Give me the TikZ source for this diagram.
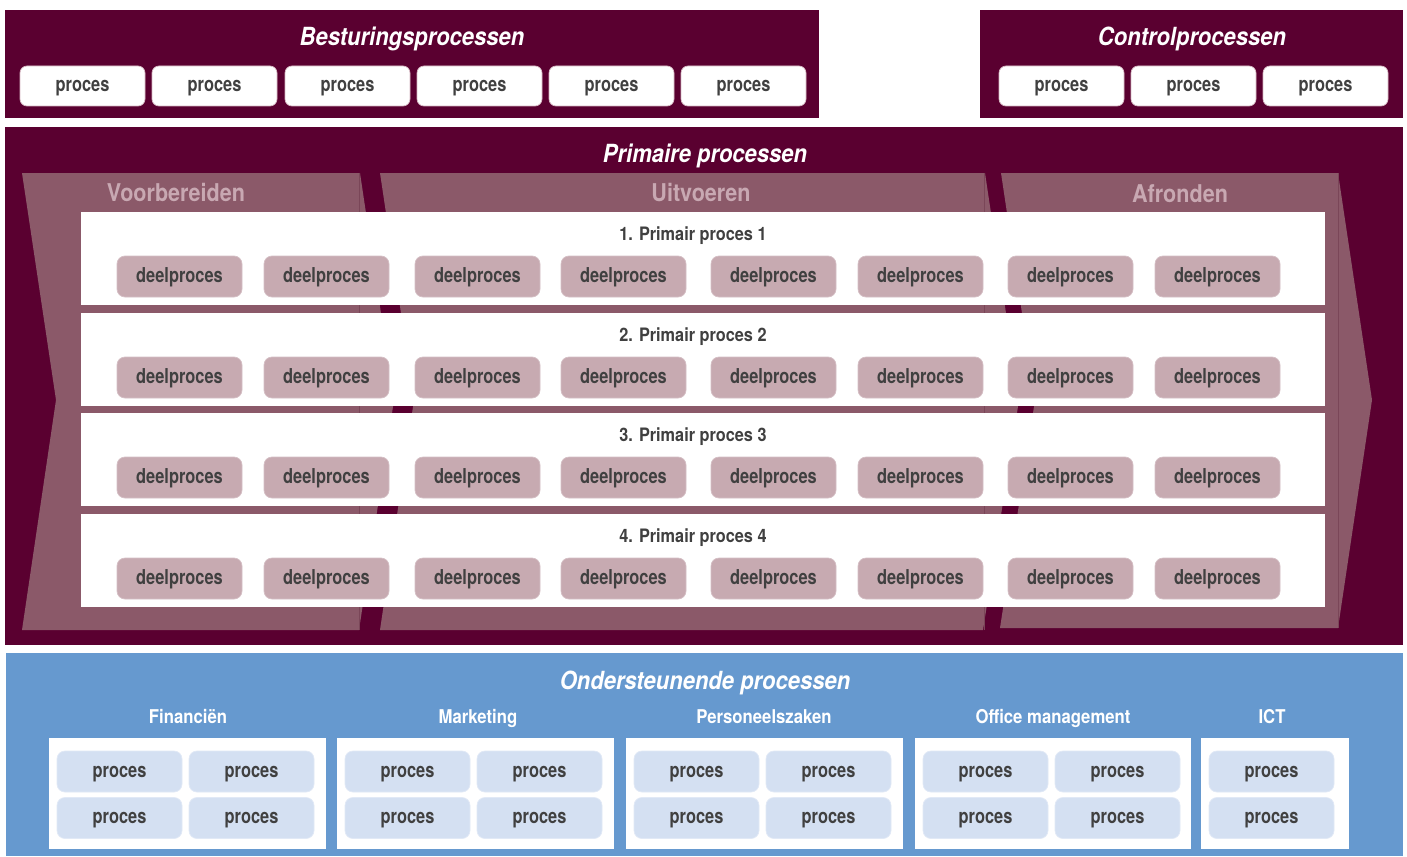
\documentclass[tikz,border=0pt]{standalone}
\usepackage{fontspec}
\setmainfont{TeX Gyre Heros}[FakeStretch=0.88]
\newfontfamily\boxfamily{TeX Gyre Heros}[FakeStretch=0.8]
\definecolor{dark}{RGB}{90,0,48}
\definecolor{chev}{RGB}{139,89,105}
\definecolor{chevseam}{RGB}{122,70,88}
\definecolor{chevtxt}{RGB}{200,168,178}
\definecolor{deelfill}{RGB}{199,170,177}
\definecolor{txt}{RGB}{64,64,64}
\definecolor{blue}{RGB}{102,153,207}
\definecolor{lblue}{RGB}{212,224,242}
\definecolor{pinkline}{RGB}{214,184,194}
\begin{document}
\begin{tikzpicture}[x=1pt,y=-1pt,
  title/.style={inner sep=0pt,text height=18pt,text depth=0pt,text=white,font=\fontsize{25}{26}\selectfont\bfseries\itshape},
  chevlabel/.style={inner sep=0pt,text height=17.6pt,text depth=0pt,text=chevtxt,font=\fontsize{24.5}{25}\selectfont\bfseries},
  rowtitle/.style={inner sep=0pt,text height=13.3pt,text depth=0pt,text=txt,font=\fontsize{18.5}{19}\selectfont\bfseries},
  grouplabel/.style={inner sep=0pt,text height=13.7pt,text depth=0pt,text=white,font=\fontsize{19}{20}\selectfont\bfseries},
  boxtext/.style={text=txt,font=\boxfamily\fontsize{20.5}{21}\selectfont\bfseries,inner sep=0pt,text height=16pt,text depth=4.1pt},
  topproc/.style={boxtext,rectangle,rounded corners=7pt,fill=white,draw=pinkline,line width=0.7pt,minimum width=125pt,minimum height=40pt},
  deelbox/.style={boxtext,rectangle,rounded corners=8pt,fill=deelfill,draw=deelfill!75!white,line width=0.7pt,minimum width=125pt,minimum height=41pt},
  blueproc/.style={boxtext,rectangle,rounded corners=8pt,fill=lblue,draw=lblue!70!white,line width=0.7pt,minimum width=125pt,minimum height=41pt},
  panel/.style={fill=dark,draw=none},
  chevshape/.style={fill=chev,draw=none},
  seam/.style={draw=chevseam,line width=0.8pt}
]
\useasboundingbox[fill=white] (0,0) rectangle (1407,856);

% ---------- top panels ----------
\fill[panel] (5,10) rectangle (819,118);
\fill[panel] (980,10) rectangle (1403,118);
\node[title] (bt) at (412,37) {Besturingsprocessen};
\node[title] (ct) at (1192,37) {Controlprocessen};
\foreach \x [count=\i] in {82.5,214.5,347.5,479.5,611.5,743.5}
  \node[topproc] (b\i) at (\x,86) {proces};
\foreach \x [count=\i] in {1061.5,1193.5,1325.5}
  \node[topproc] (c\i) at (\x,86) {proces};

% ---------- primary panel ----------
\fill[panel] (5,127) rectangle (1403,645);
\node[title] (pt) at (705,153) {Primaire processen};

\fill[chevshape] (22,173) -- (360,173) -- (394,400) -- (359,630) -- (22,630) -- (56,400) -- cycle;
\fill[chevshape] (380,173) -- (985,173) -- (1019,400) -- (983,630) -- (380,630) -- (414,400) -- cycle;
\fill[chevshape] (1001,173) -- (1338,173) -- (1372,400) -- (1338,628) -- (1000,628) -- (1035,400) -- cycle;
\draw[seam] (359.5,173) -- (359.5,630);
\draw[seam] (984,173) -- (984,630);
\draw[seam] (1338,173) -- (1338,628);

\node[chevlabel] (v) at (176,193) {Voorbereiden};
\node[chevlabel] (u) at (701,193) {Uitvoeren};
\node[chevlabel] (a) at (1180,193.5) {Afronden};

\foreach \t/\n in {212/1,313/2,413/3,514/4}{
  \fill[white] (81,\t) rectangle (1325,\t+93);
  \node[rowtitle] (r\n) at (693,\t+22) {\n. Primair proces \n};
  \foreach \x [count=\j] in {179.5,326.5,477.5,623.5,773.5,920.5,1070.5,1217.5}
    \node[deelbox] (d\n-\j) at (\x,\t+64.5) {deelproces};
}

% ---------- supporting panel ----------
\fill[blue] (6,653) rectangle (1403,856);
\node[title] (ot) at (705,680) {Ondersteunende processen};

\foreach \l/\r/\cx/\name/\id in {49/326/188/Financiën/fin,337/614/478/Marketing/mkt,626/903/764/Personeelszaken/pz,915/1191/1053/Office management/om}{
  \node[grouplabel] (\id-label) at (\cx,717) {\name};
  \fill[white] (\l,738) rectangle (\r,849);
  \node[blueproc] (\id-1) at (\l+70.5,771.5) {proces};
  \node[blueproc] (\id-2) at (\l+202.5,771.5) {proces};
  \node[blueproc] (\id-3) at (\l+70.5,818) {proces};
  \node[blueproc] (\id-4) at (\l+202.5,818) {proces};
}
\node[grouplabel] (ict-label) at (1272,717) {ICT};
\fill[white] (1201,738) rectangle (1349,849);
\node[blueproc] (ict-1) at (1271.5,771.5) {proces};
\node[blueproc] (ict-2) at (1271.5,818) {proces};
\end{tikzpicture}
\end{document}
